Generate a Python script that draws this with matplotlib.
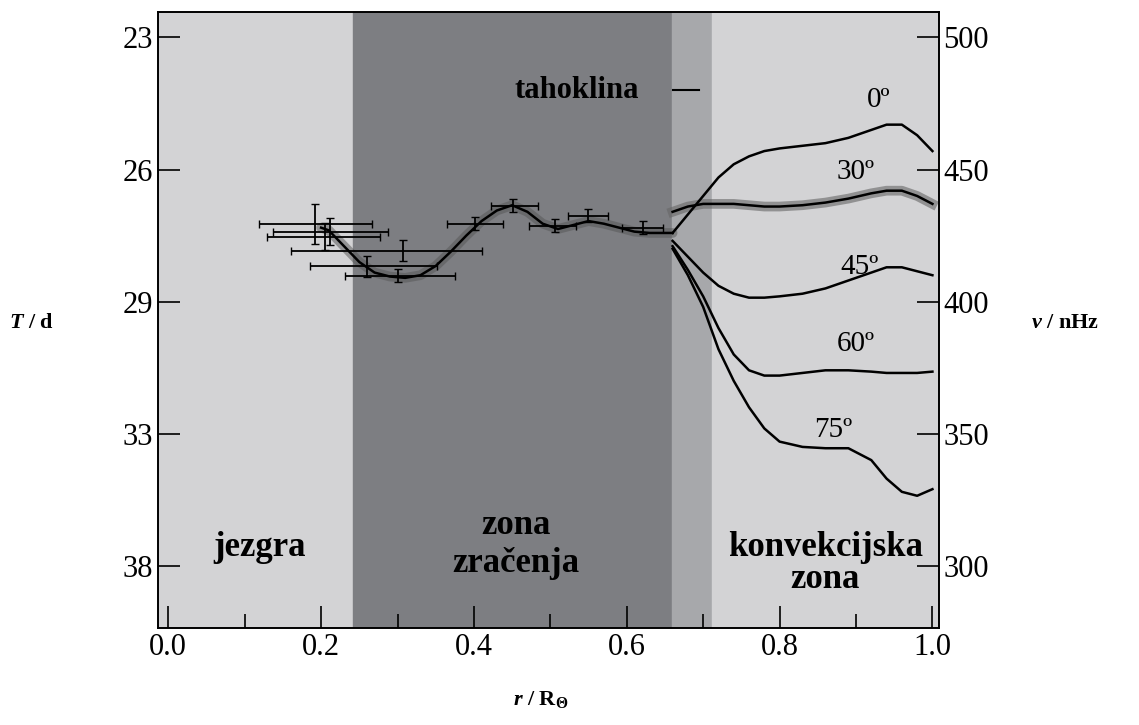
import numpy as np
import matplotlib.pyplot as plt
from matplotlib.ticker import MultipleLocator

plt.rcParams['font.family'] = ['Liberation Serif', 'DejaVu Serif']
plt.rcParams['mathtext.fontset'] = 'custom'
plt.rcParams['mathtext.rm'] = 'Liberation Serif:bold'
plt.rcParams['mathtext.bf'] = 'Liberation Serif:bold'
plt.rcParams['mathtext.it'] = 'Liberation Serif:bold:italic'

# inner (radiative zone) rotation profile, nHz
r_in = [0.20, 0.21, 0.23, 0.25, 0.27, 0.29, 0.31, 0.33, 0.35, 0.37, 0.39, 0.41,
        0.43, 0.45, 0.47, 0.49, 0.51, 0.53, 0.55, 0.57, 0.59, 0.61, 0.63, 0.66]
nu_in = [428, 427, 421, 415, 411, 409.5, 409, 410, 413.5, 419, 425, 430.5,
         434.5, 436.5, 434, 429.5, 427.5, 429, 430.5, 429.5, 428, 426.5, 426, 426]

# latitude curves in convection zone
r_lat = [0.66, 0.68, 0.70, 0.72, 0.74, 0.76, 0.78, 0.80, 0.83, 0.86, 0.89, 0.92,
         0.94, 0.96, 0.98, 1.00]
nu_lat = {
    '0º':  [426, 433, 440, 447, 452, 455, 457, 458, 459, 460, 462, 465, 467, 467, 463, 457],
    '30º': [434, 436, 437, 437, 437, 436.5, 436, 436, 436.5, 437.5, 439, 441, 442, 442, 440, 437],
    '45º': [423, 417, 411, 406, 403, 401.5, 401.5, 402, 403, 405, 408, 411, 413, 413, 411.5, 410],
    '60º': [421, 412, 402, 390, 380, 374, 372, 372, 373, 374, 374, 373.5, 373, 373, 373, 373.5],
    '75º': [420, 410, 398, 382, 370, 360, 352, 347, 345, 344.5, 344.5, 340, 333, 328, 326.5, 329],
}
lab_pos = {'0º': (0.93, 476.5), '30º': (0.90, 449), '45º': (0.905, 413),
           '60º': (0.90, 384), '75º': (0.87, 351.5)}

# helioseismic data points with error bars
pt_r = [0.192, 0.212, 0.205, 0.307, 0.26, 0.301, 0.401, 0.451, 0.506, 0.549, 0.621]
pt_nu = [429.5, 426.5, 424.6, 419.3, 413.3, 409.8, 429.5, 436.3, 428.8, 432.6, 428.0]
pt_lo = [0.119, 0.137, 0.129, 0.160, 0.186, 0.231, 0.365, 0.422, 0.472, 0.523, 0.594]
pt_hi = [0.267, 0.287, 0.277, 0.410, 0.352, 0.375, 0.438, 0.484, 0.533, 0.575, 0.647]
pt_dnu = [7.6, 5, 5, 4, 4, 2.5, 2.5, 2.5, 2.5, 2.5, 2.5]

T_ticks = [23, 26, 29, 33, 38]
nu_ticks = [500, 450, 400, 350, 300]

fig = plt.figure(figsize=(11.39, 7.25), dpi=100)
ax = fig.add_axes([0.139, 0.134, 0.685, 0.85])
ax.set_xlim(-0.013, 1.008)
ax.set_ylim(276.5, 509.8)

ax.axvspan(-0.1, 0.242, color='#d3d3d5', zorder=0)
ax.axvspan(0.242, 0.659, color='#7d7e82', zorder=0)
ax.axvspan(0.659, 0.711, color='#a7a8ab', zorder=0)
ax.axvspan(0.711, 1.1, color='#d3d3d5', zorder=0)

ax.plot(r_in, nu_in, color='#555555', lw=7, alpha=0.5, solid_capstyle='round', zorder=2)
ax.plot(r_in, nu_in, color='black', lw=1.8, zorder=3)
ax.plot(r_lat, nu_lat['30º'], color='#666666', lw=7, alpha=0.6, zorder=2)
for k, v in nu_lat.items():
    ax.plot(r_lat, v, color='black', lw=1.8, zorder=3)
    ax.text(*lab_pos[k], k, fontsize=21, ha='center', va='center')

xerr = [np.array(pt_r) - np.array(pt_lo), np.array(pt_hi) - np.array(pt_r)]
ax.errorbar(pt_r, pt_nu, xerr=xerr, yerr=pt_dnu, fmt='none', ecolor='black',
            elinewidth=1.3, capsize=3, zorder=4)

ax.text(0.535, 480, 'tahoklina', fontsize=22, fontweight='bold', ha='center', va='center')
ax.plot([0.66, 0.695], [480, 480], color='black', lw=1.5)
ax.text(0.12, 307, 'jezgra', fontsize=25, fontweight='bold', ha='center', va='center')
ax.text(0.455, 308, 'zona\nzračenja', fontsize=25, fontweight='bold', ha='center',
        va='center', linespacing=1.2)
ax.text(0.86, 301, 'konvekcijska\nzona', fontsize=25, fontweight='bold', ha='center',
        va='center', linespacing=0.95)

ax.set_yticks(nu_ticks)
ax.set_yticklabels([str(t) for t in T_ticks])
ax.set_xticks([0.0, 0.2, 0.4, 0.6, 0.8, 1.0])
ax.set_xticklabels(['0.0', '0.2', '0.4', '0.6', '0.8', '1.0'])
ax.xaxis.set_minor_locator(MultipleLocator(0.1))
ax.tick_params(axis='both', labelsize=22, direction='in', length=16, width=1.2)
ax.tick_params(axis='x', which='minor', direction='in', length=10, width=1.2)

ax2 = ax.twinx()
ax2.set_ylim(ax.get_ylim())
ax2.set_yticks(nu_ticks)
ax2.tick_params(axis='y', labelsize=22, direction='in', length=16, width=1.2)

for a in (ax, ax2):
    for s in a.spines.values():
        s.set_linewidth(1.2)

fig.text(0.008, 0.555, r'$T$ / d', fontsize=16, fontweight='bold', va='center')
fig.text(0.905, 0.555, r'$\nu$ / nHz', fontsize=16, fontweight='bold', va='center')
fig.text(0.475, 0.035, r'$r$ / R$_\Theta$', fontsize=16,
         fontweight='bold', ha='center', va='center')

fig.savefig('out.png', dpi=100)
